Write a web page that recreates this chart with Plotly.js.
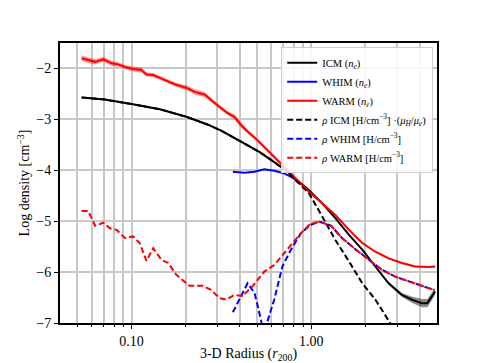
<!DOCTYPE html>
<html>
<head>
<meta charset="utf-8">
<script src="https://cdn.plot.ly/plotly-3.0.1.min.js"></script>
<style>
  body { margin: 0; background: #fff; }
  #chart { width: 485px; height: 363px; }
</style>
</head>
<body>
<div id="chart"></div>
<script>
// radius in r200, log density
const icmR = [0.0528, 0.071, 0.10, 0.1436, 0.2018, 0.264, 0.315, 0.406, 0.514, 0.622, 0.733, 0.80, 0.97, 1.15, 1.36, 1.62, 1.92, 2.27, 2.69, 3.19, 3.62, 4.12, 4.42, 4.88];
const icmNe = [-2.57, -2.61, -2.70, -2.80, -2.95, -3.10, -3.22, -3.43, -3.64, -3.84, -4.02, -4.14, -4.39, -4.65, -4.94, -5.27, -5.56, -5.89, -6.22, -6.45, -6.54, -6.61, -6.61, -6.38];
const icmErr = [0.01, 0.01, 0.01, 0.01, 0.01, 0.01, 0.01, 0.01, 0.01, 0.01, 0.01, 0.01, 0.01, 0.01, 0.01, 0.01, 0.01, 0.02, 0.03, 0.04, 0.06, 0.08, 0.08, 0.07];

const whimR = [0.366, 0.424, 0.483, 0.547, 0.622, 0.706, 0.80, 0.92];
const whimNe = [-4.03, -4.05, -4.03, -3.98, -4.01, -4.06, -4.16, -4.32];

const warmR = [0.0528, 0.0627, 0.0697, 0.0775, 0.0843, 0.0918, 0.102, 0.1135, 0.121, 0.132, 0.1466, 0.174, 0.206, 0.224, 0.2545, 0.283, 0.315, 0.343, 0.373, 0.406, 0.442, 0.502, 0.570, 0.648, 0.736, 0.82, 0.97, 1.15, 1.36, 1.62, 1.92, 2.27, 2.69, 3.19, 3.78, 4.49, 4.88];
const warmNe = [-1.80, -1.87, -1.82, -1.90, -1.92, -1.97, -2.01, -2.03, -2.12, -2.13, -2.20, -2.31, -2.39, -2.46, -2.51, -2.65, -2.78, -2.88, -2.95, -3.11, -3.24, -3.41, -3.60, -3.80, -3.99, -4.16, -4.42, -4.65, -4.88, -5.17, -5.43, -5.60, -5.73, -5.82, -5.89, -5.90, -5.89];
const warmErr = [0.06, 0.05, 0.05, 0.05, 0.04, 0.04, 0.05, 0.05, 0.04, 0.04, 0.04, 0.04, 0.05, 0.05, 0.05, 0.04, 0.04, 0.04, 0.05, 0.05, 0.04, 0.03, 0.03, 0.02, 0.02, 0.02, 0.02, 0.02, 0.02, 0.02, 0.02, 0.02, 0.02, 0.02, 0.02, 0.02, 0.02];

const rhoIcmR = [0.0528, 0.071, 0.10, 0.1436, 0.2018, 0.264, 0.315, 0.406, 0.514, 0.622, 0.733, 0.82, 0.97, 1.15, 1.36, 1.62, 1.92, 2.27, 2.69, 2.80];
const rhoIcm = [-2.57, -2.61, -2.70, -2.80, -2.95, -3.10, -3.22, -3.43, -3.64, -3.84, -4.03, -4.20, -4.45, -4.91, -5.37, -5.79, -6.22, -6.54, -6.93, -7.05];

const rhoWhimR = [0.366, 0.442, 0.483, 0.525, 0.545, 0.57, 0.622, 0.69, 0.77, 0.873, 0.99, 1.11, 1.29, 1.48, 1.77, 2.08, 2.46, 2.93, 3.47, 4.12, 4.80];
const rhoWhim = [-6.79, -6.22, -6.41, -6.94, -7.3, -6.97, -6.54, -5.89, -5.56, -5.24, -5.07, -5.01, -5.09, -5.33, -5.56, -5.76, -5.95, -6.09, -6.18, -6.28, -6.35];

const rhoWarmR = [0.0528, 0.0575, 0.0627, 0.0697, 0.0758, 0.0826, 0.0918, 0.102, 0.111, 0.121, 0.132, 0.1466, 0.160, 0.177, 0.210, 0.249, 0.277, 0.308, 0.336, 0.373, 0.414, 0.471, 0.547, 0.622, 0.706, 0.80, 0.873, 0.99, 1.11, 1.29, 1.48, 1.77, 2.08, 2.46, 2.93, 3.47, 4.12, 4.80];
const rhoWarm = [-4.80, -4.80, -5.09, -5.03, -5.14, -5.17, -5.33, -5.30, -5.43, -5.78, -5.53, -5.76, -5.82, -6.05, -6.27, -6.27, -6.35, -6.51, -6.54, -6.45, -6.47, -6.28, -5.99, -5.86, -5.63, -5.40, -5.24, -5.05, -5.01, -5.09, -5.33, -5.56, -5.76, -5.95, -6.09, -6.18, -6.28, -6.35];

const gridVals = [0.05, 0.06, 0.07, 0.08, 0.09, 0.2, 0.3, 0.4, 0.5, 0.6, 0.7, 0.8, 0.9, 2, 3, 4];

function band(x, y, err, color) {
  return [
    {x: x, y: y.map((v, i) => v + err[i]), mode: 'lines', line: {width: 0}, showlegend: false, hoverinfo: 'skip'},
    {x: x, y: y.map((v, i) => v - err[i]), mode: 'lines', line: {width: 0}, fill: 'tonexty', fillcolor: color, showlegend: false, hoverinfo: 'skip'}
  ];
}

const data = [
  ...band(icmR, icmNe, icmErr, 'rgba(0,0,0,0.45)'),
  ...band(warmR, warmNe, warmErr, 'rgba(255,0,0,0.4)'),
  {x: icmR, y: icmNe, mode: 'lines', name: 'ICM (<i>n<sub>e</sub></i>)', line: {color: 'black', width: 2}},
  {x: whimR, y: whimNe, mode: 'lines', name: 'WHIM (<i>n<sub>e</sub></i>)', line: {color: 'blue', width: 2}},
  {x: warmR, y: warmNe, mode: 'lines', name: 'WARM (<i>n<sub>e</sub></i>)', line: {color: 'red', width: 2}},
  {x: rhoIcmR, y: rhoIcm, mode: 'lines', name: '<i>ρ</i> ICM [H/cm<sup>−3</sup>] ·(<i>μ<sub>H</sub></i>/<i>μ<sub>e</sub></i>)', line: {color: 'black', width: 2, dash: '6px,3px'}},
  {x: rhoWhimR, y: rhoWhim, mode: 'lines', name: '<i>ρ</i> WHIM [H/cm<sup>−3</sup>]', line: {color: 'blue', width: 2, dash: '6px,3px'}},
  {x: rhoWarmR, y: rhoWarm, mode: 'lines', name: '<i>ρ</i> WARM [H/cm<sup>−3</sup>]', line: {color: 'red', width: 2, dash: '6px,3px'}}
];

const layout = {
  width: 485,
  height: 363,
  paper_bgcolor: 'white',
  plot_bgcolor: 'white',
  font: {family: 'Liberation Serif, serif', size: 14, color: 'black'},
  margin: {l: 60, r: 48, t: 43, b: 40},
  showlegend: true,
  legend: {
    x: 0.99, y: 0.985, xanchor: 'right', yanchor: 'top',
    traceorder: 'normal',
    bgcolor: 'rgba(255,255,255,0.85)',
    bordercolor: '#d0d0d0', borderwidth: 1,
    font: {size: 10.5},
    itemwidth: 30,
    tracegroupgap: 0
  },
  xaxis: {
    type: 'log',
    range: [Math.log10(0.04), Math.log10(5)],
    tickvals: [0.1, 1],
    ticktext: ['0.10', '1.00'],
    ticks: 'outside', ticklen: 4, tickwidth: 1, tickcolor: 'black',
    showgrid: true, gridcolor: '#c8c8c8', gridwidth: 1.5,
    minor: {tickvals: gridVals, showgrid: true, gridcolor: '#c8c8c8', gridwidth: 1.5, ticks: 'outside', ticklen: 2, tickcolor: 'black'},
    showline: true, linecolor: 'black', linewidth: 2, mirror: true,
    zeroline: false,
    title: {text: '3-D Radius (<i>r</i><sub>200</sub>)', font: {size: 14}, standoff: 5}
  },
  yaxis: {
    range: [-7, -1.5],
    tickvals: [-7, -6, -5, -4, -3, -2],
    ticks: 'outside', ticklen: 4, tickwidth: 1, tickcolor: 'black',
    showgrid: true, gridcolor: '#c8c8c8', gridwidth: 1.5,
    showline: true, linecolor: 'black', linewidth: 2, mirror: true,
    zeroline: false,
    title: {text: 'Log density [cm<sup>−3</sup>]', font: {size: 14}, standoff: 3}
  }
};

Plotly.newPlot('chart', data, layout, {displayModeBar: false});
</script>
</body>
</html>
